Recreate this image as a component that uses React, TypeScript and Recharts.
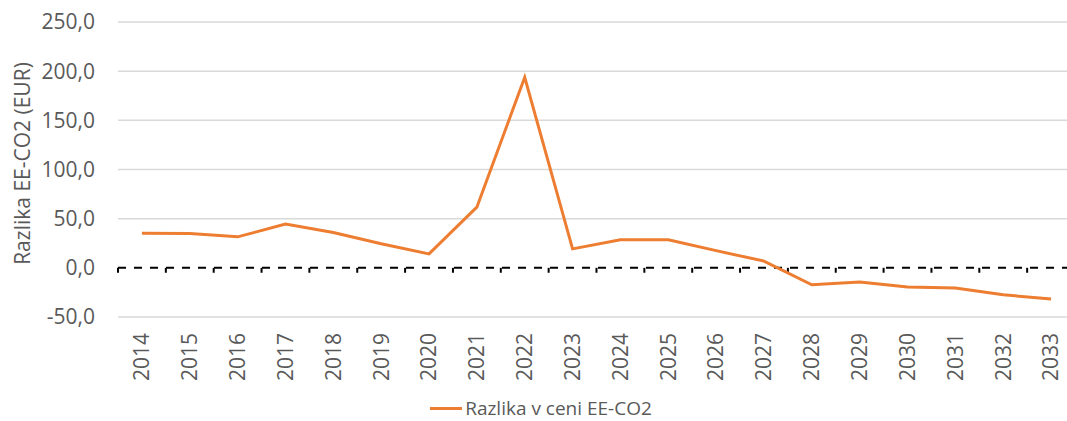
import React from 'react';
import {
  ComposedChart,
  Line,
  XAxis,
  YAxis,
  CartesianGrid,
  ReferenceLine,
  Legend,
} from 'recharts';

const years = ['2014','2015','2016','2017','2018','2019','2020','2021','2022','2023','2024','2025','2026','2027','2028','2029','2030','2031','2032','2033'];
const values = [35.2, 34.8, 31.5, 44.5, 36.0, 24.5, 14.2, 61.7, 193.8, 19.3, 28.6, 28.6, 17.5, 6.8, -17.3, -14.5, -19.6, -20.6, -27.4, -31.8];
const yTicks = [-50, 0, 50, 100, 150, 200, 250];
const gridValues = [-50, 50, 100, 150, 200, 250];
const seriesName = 'Razlika v ceni EE-CO2';
const yTitle = 'Razlika EE-CO2 (EUR)';

const data = years.map((y, i) => ({ year: y, value: values[i] }));

const FONT = '"Open Sans", sans-serif';
const TEXT = '#595959';
const ORANGE = '#ED7D31';

const XTick = (props: any) => {
  const { x, y, payload } = props;
  return (
    <g transform={`translate(${x},${y})`}>
      <text
        transform="rotate(-90)"
        x={-8}
        y={0}
        dy="0.35em"
        textAnchor="end"
        fill={TEXT}
        fontSize={21}
        fontFamily={FONT}
      >
        {payload.value}
      </text>
    </g>
  );
};

const YTitle = (props: any) => {
  const vb = props.viewBox || {};
  const cx = vb.x + 22;
  const cy = vb.y + vb.height / 2 - 6;
  return (
    <text
      x={cx}
      y={cy}
      transform={`rotate(-90, ${cx}, ${cy})`}
      textAnchor="middle"
      dominantBaseline="central"
      fill={TEXT}
      fontSize={21}
      fontFamily={FONT}
    >
      {yTitle}
    </text>
  );
};

const LegendContent = () => (
  <div
    style={{
      display: 'flex',
      alignItems: 'center',
      justifyContent: 'center',
      height: 26,
      paddingLeft: 22,
      boxSizing: 'border-box',
      fontFamily: FONT,
      fontSize: 19,
      color: TEXT,
    }}
  >
    <span style={{ display: 'inline-block', width: 32, height: 3, background: ORANGE, marginRight: 3 }} />
    <span style={{ lineHeight: '26px', whiteSpace: 'nowrap' }}>{seriesName}</span>
  </div>
);

export default function App() {
  return (
    <div style={{ position: 'fixed', left: 0, top: 0, width: 1067, height: 421, overflow: 'hidden', background: '#fff' }}>
      <ComposedChart
        width={1090}
        height={421}
        data={data}
        margin={{ top: 22, right: 15, bottom: 0, left: 0 }}
      >
        <CartesianGrid
          vertical={false}
          horizontalValues={gridValues}
          stroke="#d9d9d9"
          strokeWidth={1.5}
        />
        <XAxis
          dataKey="year"
          type="category"
          scale="band"
          interval={0}
          height={78}
          axisLine={false}
          tickLine={false}
          tick={<XTick />}
        />
        <YAxis
          type="number"
          domain={[-50, 250]}
          ticks={yTicks}
          width={118}
          axisLine={false}
          tickLine={false}
          tickSize={0}
          tickMargin={23}
          tickFormatter={(v: number) => v.toFixed(1).replace('.', ',')}
          tick={{ fill: TEXT, fontSize: 21, fontFamily: FONT }}
          label={<YTitle />}
        />
        <ReferenceLine y={0} stroke="#000" strokeWidth={2} strokeDasharray="8 8" />
        {years.map((y) => (
          <ReferenceLine
            key={'t' + y}
            segment={[{ x: y, y: 0 }, { x: y, y: -5 }]}
            position="start"
            stroke="#000"
            strokeWidth={2}
          />
        ))}
        <Line
          type="linear"
          dataKey="value"
          name={seriesName}
          stroke={ORANGE}
          strokeWidth={3}
          dot={false}
          isAnimationActive={false}
        />
        <Legend
          verticalAlign="bottom"
          width={1060}
          height={26}
          wrapperStyle={{ height: 26, width: 1060, left: 0 }}
          content={<LegendContent />}
        />
      </ComposedChart>
    </div>
  );
}
